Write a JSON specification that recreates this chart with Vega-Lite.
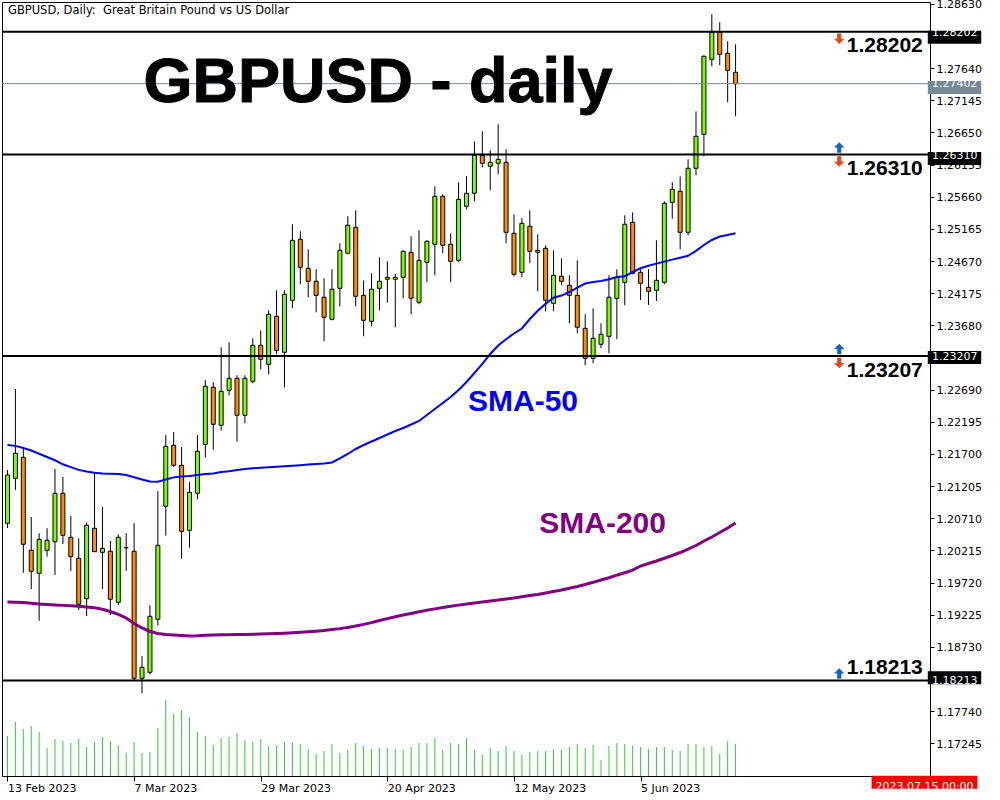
{
"$schema": "https://vega.github.io/schema/vega-lite/v6.json",
"width": 928, "height": 774,
"padding": {"left": 2, "top": 2, "right": 70, "bottom": 24},
"autosize": {"type": "none"},
"background": "white",
"config": {"view": {"stroke": "black", "strokeWidth": 1}, "font": "DejaVu Sans"},
"datasets": {
"bars": [
{"i":0,"d":"2023-02-13","o":1.20633,"h":1.21453,"l":1.20560,"c":1.21376,"v":80000,"s50":1.21838,"s200":1.19421},
{"i":1,"d":"2023-02-14","o":1.21326,"h":1.22701,"l":1.21146,"c":1.21711,"v":108000,"s50":1.21825,"s200":1.19416},
{"i":2,"d":"2023-02-15","o":1.21649,"h":1.21788,"l":1.19872,"c":1.20309,"v":94000,"s50":1.21792,"s200":1.19412},
{"i":3,"d":"2023-02-16","o":1.20217,"h":1.20730,"l":1.19621,"c":1.19894,"v":100000,"s50":1.21754,"s200":1.19401},
{"i":4,"d":"2023-02-17","o":1.19863,"h":1.20479,"l":1.19133,"c":1.20386,"v":88000,"s50":1.21704,"s200":1.19390},
{"i":5,"d":"2023-02-20","o":1.20217,"h":1.20556,"l":1.20119,"c":1.20371,"v":56000,"s50":1.21654,"s200":1.19383},
{"i":6,"d":"2023-02-21","o":1.20349,"h":1.21469,"l":1.19837,"c":1.21095,"v":74000,"s50":1.21603,"s200":1.19375},
{"i":7,"d":"2023-02-22","o":1.21095,"h":1.21346,"l":1.20314,"c":1.20448,"v":70000,"s50":1.21541,"s200":1.19369},
{"i":8,"d":"2023-02-23","o":1.20417,"h":1.20745,"l":1.19898,"c":1.20119,"v":66000,"s50":1.21497,"s200":1.19363},
{"i":9,"d":"2023-02-24","o":1.20094,"h":1.20402,"l":1.19298,"c":1.19386,"v":74000,"s50":1.21455,"s200":1.19355},
{"i":10,"d":"2023-02-27","o":1.19472,"h":1.20648,"l":1.19205,"c":1.20602,"v":58000,"s50":1.21430,"s200":1.19344},
{"i":11,"d":"2023-02-28","o":1.20556,"h":1.21407,"l":1.20191,"c":1.20196,"v":68000,"s50":1.21410,"s200":1.19332},
{"i":12,"d":"2023-03-01","o":1.20186,"h":1.20884,"l":1.19621,"c":1.20248,"v":78000,"s50":1.21398,"s200":1.19309},
{"i":13,"d":"2023-03-02","o":1.20202,"h":1.20360,"l":1.19221,"c":1.19463,"v":70000,"s50":1.21396,"s200":1.19275},
{"i":14,"d":"2023-03-03","o":1.19416,"h":1.20463,"l":1.19375,"c":1.20417,"v":62000,"s50":1.21392,"s200":1.19232},
{"i":15,"d":"2023-03-06","o":1.20257,"h":1.20483,"l":1.19898,"c":1.20257,"v":46000,"s50":1.21376,"s200":1.19175},
{"i":16,"d":"2023-03-07","o":1.20202,"h":1.20633,"l":1.18220,"c":1.18246,"v":68000,"s50":1.21343,"s200":1.19090},
{"i":17,"d":"2023-03-08","o":1.18246,"h":1.18590,"l":1.18015,"c":1.18416,"v":46000,"s50":1.21307,"s200":1.19021},
{"i":18,"d":"2023-03-09","o":1.18339,"h":1.19370,"l":1.18308,"c":1.19201,"v":48000,"s50":1.21275,"s200":1.18967},
{"i":19,"d":"2023-03-10","o":1.19155,"h":1.21130,"l":1.19056,"c":1.20294,"v":96000,"s50":1.21272,"s200":1.18936},
{"i":20,"d":"2023-03-13","o":1.20895,"h":1.21992,"l":1.20442,"c":1.21818,"v":152000,"s50":1.21307,"s200":1.18921},
{"i":21,"d":"2023-03-14","o":1.21834,"h":1.22039,"l":1.21500,"c":1.21526,"v":124000,"s50":1.21340,"s200":1.18913},
{"i":22,"d":"2023-03-15","o":1.21526,"h":1.21808,"l":1.20088,"c":1.20510,"v":132000,"s50":1.21353,"s200":1.18905},
{"i":23,"d":"2023-03-16","o":1.20525,"h":1.21269,"l":1.20257,"c":1.21110,"v":118000,"s50":1.21361,"s200":1.18898},
{"i":24,"d":"2023-03-17","o":1.21095,"h":1.21992,"l":1.21002,"c":1.21741,"v":88000,"s50":1.21376,"s200":1.18901},
{"i":25,"d":"2023-03-20","o":1.21849,"h":1.22839,"l":1.21643,"c":1.22742,"v":80000,"s50":1.21390,"s200":1.18908},
{"i":26,"d":"2023-03-21","o":1.22727,"h":1.22804,"l":1.21766,"c":1.22157,"v":62000,"s50":1.21401,"s200":1.18913},
{"i":27,"d":"2023-03-22","o":1.22142,"h":1.23343,"l":1.22059,"c":1.22665,"v":76000,"s50":1.21423,"s200":1.18916},
{"i":28,"d":"2023-03-23","o":1.22681,"h":1.23420,"l":1.22604,"c":1.22865,"v":78000,"s50":1.21435,"s200":1.18918},
{"i":29,"d":"2023-03-24","o":1.22865,"h":1.22912,"l":1.21889,"c":1.22296,"v":86000,"s50":1.21453,"s200":1.18919},
{"i":30,"d":"2023-03-27","o":1.22296,"h":1.22912,"l":1.22172,"c":1.22865,"v":72000,"s50":1.21469,"s200":1.18921},
{"i":31,"d":"2023-03-28","o":1.22819,"h":1.23481,"l":1.22788,"c":1.23373,"v":68000,"s50":1.21480,"s200":1.18925},
{"i":32,"d":"2023-03-29","o":1.23373,"h":1.23604,"l":1.23004,"c":1.23158,"v":74000,"s50":1.21487,"s200":1.18928},
{"i":33,"d":"2023-03-30","o":1.23081,"h":1.23912,"l":1.22927,"c":1.23851,"v":60000,"s50":1.21495,"s200":1.18931},
{"i":34,"d":"2023-03-31","o":1.23820,"h":1.24220,"l":1.23235,"c":1.23296,"v":62000,"s50":1.21503,"s200":1.18936},
{"i":35,"d":"2023-04-03","o":1.23266,"h":1.24220,"l":1.22727,"c":1.24159,"v":68000,"s50":1.21510,"s200":1.18941},
{"i":36,"d":"2023-04-04","o":1.24066,"h":1.25237,"l":1.23943,"c":1.24990,"v":66000,"s50":1.21518,"s200":1.18947},
{"i":37,"d":"2023-04-05","o":1.25006,"h":1.25129,"l":1.24313,"c":1.24574,"v":64000,"s50":1.21527,"s200":1.18955},
{"i":38,"d":"2023-04-06","o":1.24559,"h":1.24852,"l":1.24113,"c":1.24359,"v":54000,"s50":1.21537,"s200":1.18962},
{"i":39,"d":"2023-04-07","o":1.24359,"h":1.24544,"l":1.23882,"c":1.24143,"v":44000,"s50":1.21546,"s200":1.18971},
{"i":40,"d":"2023-04-10","o":1.24113,"h":1.24405,"l":1.23435,"c":1.23805,"v":50000,"s50":1.21554,"s200":1.18982},
{"i":41,"d":"2023-04-11","o":1.23774,"h":1.24544,"l":1.23758,"c":1.24236,"v":64000,"s50":1.21569,"s200":1.18996},
{"i":42,"d":"2023-04-12","o":1.24251,"h":1.24944,"l":1.23974,"c":1.24836,"v":46000,"s50":1.21631,"s200":1.19011},
{"i":43,"d":"2023-04-13","o":1.24790,"h":1.25360,"l":1.24775,"c":1.25221,"v":52000,"s50":1.21700,"s200":1.19030},
{"i":44,"d":"2023-04-14","o":1.25190,"h":1.25452,"l":1.23974,"c":1.24128,"v":66000,"s50":1.21777,"s200":1.19051},
{"i":45,"d":"2023-04-17","o":1.24143,"h":1.24374,"l":1.23512,"c":1.23758,"v":60000,"s50":1.21838,"s200":1.19076},
{"i":46,"d":"2023-04-18","o":1.23743,"h":1.24482,"l":1.23666,"c":1.24236,"v":54000,"s50":1.21892,"s200":1.19104},
{"i":47,"d":"2023-04-19","o":1.24251,"h":1.24728,"l":1.23912,"c":1.24359,"v":56000,"s50":1.21946,"s200":1.19135},
{"i":48,"d":"2023-04-20","o":1.24390,"h":1.24667,"l":1.24032,"c":1.24420,"v":56000,"s50":1.22000,"s200":1.19165},
{"i":49,"d":"2023-04-21","o":1.24390,"h":1.24471,"l":1.23651,"c":1.24420,"v":54000,"s50":1.22054,"s200":1.19193},
{"i":50,"d":"2023-04-24","o":1.24420,"h":1.24836,"l":1.24097,"c":1.24821,"v":52000,"s50":1.22100,"s200":1.19221},
{"i":51,"d":"2023-04-25","o":1.24805,"h":1.25052,"l":1.23851,"c":1.24097,"v":58000,"s50":1.22154,"s200":1.19245},
{"i":52,"d":"2023-04-26","o":1.24036,"h":1.25144,"l":1.24005,"c":1.24682,"v":66000,"s50":1.22208,"s200":1.19270},
{"i":53,"d":"2023-04-27","o":1.24651,"h":1.24990,"l":1.24343,"c":1.24975,"v":66000,"s50":1.22300,"s200":1.19293},
{"i":54,"d":"2023-04-28","o":1.24929,"h":1.25822,"l":1.24451,"c":1.25668,"v":76000,"s50":1.22393,"s200":1.19315},
{"i":55,"d":"2023-05-01","o":1.25668,"h":1.25698,"l":1.24790,"c":1.24913,"v":52000,"s50":1.22485,"s200":1.19336},
{"i":56,"d":"2023-05-02","o":1.24929,"h":1.25098,"l":1.24343,"c":1.24667,"v":66000,"s50":1.22577,"s200":1.19355},
{"i":57,"d":"2023-05-03","o":1.24682,"h":1.25883,"l":1.24651,"c":1.25621,"v":64000,"s50":1.22685,"s200":1.19373},
{"i":58,"d":"2023-05-04","o":1.25514,"h":1.25976,"l":1.25467,"c":1.25714,"v":76000,"s50":1.22808,"s200":1.19390},
{"i":59,"d":"2023-05-05","o":1.25714,"h":1.26514,"l":1.25591,"c":1.26299,"v":52000,"s50":1.22947,"s200":1.19406},
{"i":60,"d":"2023-05-08","o":1.26299,"h":1.26668,"l":1.26114,"c":1.26176,"v":42000,"s50":1.23086,"s200":1.19421},
{"i":61,"d":"2023-05-09","o":1.26130,"h":1.26376,"l":1.25760,"c":1.26191,"v":56000,"s50":1.23240,"s200":1.19436},
{"i":62,"d":"2023-05-10","o":1.26176,"h":1.26776,"l":1.26006,"c":1.26237,"v":50000,"s50":1.23370,"s200":1.19452},
{"i":63,"d":"2023-05-11","o":1.26191,"h":1.26391,"l":1.24944,"c":1.25113,"v":60000,"s50":1.23467,"s200":1.19467},
{"i":64,"d":"2023-05-12","o":1.25098,"h":1.25390,"l":1.24433,"c":1.24467,"v":50000,"s50":1.23555,"s200":1.19484},
{"i":65,"d":"2023-05-15","o":1.24497,"h":1.25329,"l":1.24420,"c":1.25252,"v":42000,"s50":1.23632,"s200":1.19501},
{"i":66,"d":"2023-05-16","o":1.25206,"h":1.25452,"l":1.24636,"c":1.24821,"v":48000,"s50":1.23778,"s200":1.19520},
{"i":67,"d":"2023-05-17","o":1.24805,"h":1.25083,"l":1.24205,"c":1.24836,"v":50000,"s50":1.23906,"s200":1.19538},
{"i":68,"d":"2023-05-18","o":1.24867,"h":1.24913,"l":1.23897,"c":1.24066,"v":50000,"s50":1.24012,"s200":1.19560},
{"i":69,"d":"2023-05-19","o":1.24020,"h":1.24836,"l":1.23897,"c":1.24451,"v":54000,"s50":1.24105,"s200":1.19583},
{"i":70,"d":"2023-05-22","o":1.24436,"h":1.24713,"l":1.24297,"c":1.24359,"v":52000,"s50":1.24139,"s200":1.19606},
{"i":71,"d":"2023-05-23","o":1.24297,"h":1.24451,"l":1.23712,"c":1.24143,"v":58000,"s50":1.24194,"s200":1.19632},
{"i":72,"d":"2023-05-24","o":1.24143,"h":1.24682,"l":1.23558,"c":1.23651,"v":64000,"s50":1.24263,"s200":1.19660},
{"i":73,"d":"2023-05-25","o":1.23635,"h":1.23851,"l":1.23066,"c":1.23173,"v":56000,"s50":1.24325,"s200":1.19691},
{"i":74,"d":"2023-05-26","o":1.23173,"h":1.23943,"l":1.23096,"c":1.23481,"v":62000,"s50":1.24348,"s200":1.19724},
{"i":75,"d":"2023-05-29","o":1.23389,"h":1.23712,"l":1.23327,"c":1.23543,"v":32000,"s50":1.24363,"s200":1.19760},
{"i":76,"d":"2023-05-30","o":1.23512,"h":1.24451,"l":1.23250,"c":1.24113,"v":60000,"s50":1.24391,"s200":1.19795},
{"i":77,"d":"2023-05-31","o":1.24097,"h":1.24544,"l":1.23466,"c":1.24420,"v":66000,"s50":1.24425,"s200":1.19834},
{"i":78,"d":"2023-06-01","o":1.24343,"h":1.25375,"l":1.23989,"c":1.25237,"v":64000,"s50":1.24436,"s200":1.19872},
{"i":79,"d":"2023-06-02","o":1.25267,"h":1.25421,"l":1.24467,"c":1.24482,"v":60000,"s50":1.24502,"s200":1.19911},
{"i":80,"d":"2023-06-05","o":1.24497,"h":1.24544,"l":1.24071,"c":1.24328,"v":58000,"s50":1.24559,"s200":1.19975},
{"i":81,"d":"2023-06-06","o":1.24266,"h":1.24544,"l":1.23994,"c":1.24205,"v":54000,"s50":1.24599,"s200":1.20014},
{"i":82,"d":"2023-06-07","o":1.24220,"h":1.24990,"l":1.24056,"c":1.24374,"v":58000,"s50":1.24631,"s200":1.20052},
{"i":83,"d":"2023-06-08","o":1.24343,"h":1.25591,"l":1.24313,"c":1.25560,"v":58000,"s50":1.24662,"s200":1.20094},
{"i":84,"d":"2023-06-09","o":1.25575,"h":1.25883,"l":1.25323,"c":1.25775,"v":52000,"s50":1.24693,"s200":1.20137},
{"i":85,"d":"2023-06-12","o":1.25745,"h":1.25976,"l":1.24852,"c":1.25113,"v":50000,"s50":1.24722,"s200":1.20183},
{"i":86,"d":"2023-06-13","o":1.25113,"h":1.26237,"l":1.25067,"c":1.26099,"v":64000,"s50":1.24751,"s200":1.20234},
{"i":87,"d":"2023-06-14","o":1.26099,"h":1.26976,"l":1.25991,"c":1.26591,"v":64000,"s50":1.24828,"s200":1.20291},
{"i":88,"d":"2023-06-15","o":1.26622,"h":1.27839,"l":1.26283,"c":1.27823,"v":58000,"s50":1.24918,"s200":1.20360},
{"i":89,"d":"2023-06-16","o":1.27777,"h":1.28470,"l":1.27669,"c":1.28193,"v":60000,"s50":1.24995,"s200":1.20422},
{"i":90,"d":"2023-06-19","o":1.28193,"h":1.28347,"l":1.27685,"c":1.27854,"v":44000,"s50":1.25049,"s200":1.20491},
{"i":91,"d":"2023-06-20","o":1.27869,"h":1.28054,"l":1.27115,"c":1.27608,"v":70000,"s50":1.25072,"s200":1.20560},
{"i":92,"d":"2023-06-21","o":1.27577,"h":1.28008,"l":1.26899,"c":1.27402,"v":64000,"s50":1.25098,"s200":1.20637}
],
"levels": [
{"lv":1.28202,"lab":"1.28202","side":"below","buy":false,"sell":true},
{"lv":1.26310,"lab":"1.26310","side":"below","buy":true,"sell":true},
{"lv":1.23207,"lab":"1.23207","side":"below","buy":true,"sell":true},
{"lv":1.18213,"lab":"1.18213","side":"above","buy":true,"sell":false}
],
"bid": [{"lv":1.27402,"lab":"1.27402"}]
},
"resolve": {"scale": {"y": "independent"}, "axis": {"y": "independent"}},
"layer": [
{
"data": {"name": "bars"},
"mark": {"type": "bar", "size": 1, "color": "#32CD32"},
"encoding": {
"x": {"field": "i", "type": "quantitative", "scale": {"domain": [-0.0625, 115.9375], "nice": false, "zero": false},
"axis": {"orient": "bottom", "values": [0,16,32,48,64,80], "labelExpr": "datum.value == 0 ? '13 Feb 2023' : datum.value == 16 ? '7 Mar 2023' : datum.value == 32 ? '29 Mar 2023' : datum.value == 48 ? '20 Apr 2023' : datum.value == 64 ? '12 May 2023' : '5 Jun 2023'", "labelAlign": "left", "labelFlush": false, "labelOverlap": false, "tickSize": 5, "tickColor": "black", "labelPadding": 1, "domain": false, "grid": false, "title": null, "labelFont": "DejaVu Sans", "labelFontSize": 11, "labelColor": "black"}},
"y": {"field": "v", "type": "quantitative", "scale": {"domain": [0, 1548000], "nice": false}, "axis": null}
}
},
{
"data": {"name": "bars"},
"mark": {"type": "rule", "color": "black", "strokeWidth": 1},
"encoding": {
"x": {"field": "i", "type": "quantitative"},
"y": {"field": "l", "type": "quantitative", "scale": {"domain": [1.167419, 1.286592], "nice": false, "zero": false},
"axis": {"orient": "right", "values": [1.28630,1.28135,1.27640,1.27145,1.26650,1.26155,1.25660,1.25165,1.24670,1.24175,1.23680,1.22690,1.22195,1.21700,1.21205,1.20710,1.20215,1.19720,1.19225,1.18730,1.17740,1.17245], "format": ".5f", "tickSize": 4, "tickColor": "black", "labelPadding": 2, "labelOffset": 1, "labelOverlap": false, "domain": false, "grid": false, "title": null, "labelFont": "DejaVu Sans", "labelFontSize": 11, "labelColor": "black", "zindex": 0}},
"y2": {"field": "h"}
}
},
{
"data": {"name": "bars"},
"mark": {"type": "bar", "size": 4, "stroke": "black", "strokeWidth": 1},
"encoding": {
"x": {"field": "i", "type": "quantitative"},
"y": {"field": "o", "type": "quantitative", "scale": {"domain": [1.167419, 1.286592], "nice": false, "zero": false}, "axis": null},
"y2": {"field": "c"},
"color": {"condition": {"test": "datum.c > datum.o", "value": "#7CFC00"}, "value": "#FF8C00"}
}
},
{
"data": {"name": "bars"},
"mark": {"type": "line", "color": "#0000FF", "strokeWidth": 2},
"encoding": {
"x": {"field": "i", "type": "quantitative"},
"y": {"field": "s50", "type": "quantitative", "scale": {"domain": [1.167419, 1.286592], "nice": false, "zero": false}, "axis": null}
}
},
{
"data": {"name": "bars"},
"mark": {"type": "line", "color": "#800080", "strokeWidth": 3},
"encoding": {
"x": {"field": "i", "type": "quantitative"},
"y": {"field": "s200", "type": "quantitative", "scale": {"domain": [1.167419, 1.286592], "nice": false, "zero": false}, "axis": null}
}
},
{
"data": {"name": "levels"},
"mark": {"type": "rule", "color": "black", "strokeWidth": 2},
"encoding": {"y": {"field": "lv", "type": "quantitative", "scale": {"domain": [1.167419, 1.286592], "nice": false, "zero": false}, "axis": null}}
},
{
"data": {"name": "bid"},
"mark": {"type": "rule", "color": "#778899", "strokeWidth": 1},
"encoding": {"y": {"field": "lv", "type": "quantitative", "scale": {"domain": [1.167419, 1.286592], "nice": false, "zero": false}, "axis": null}}
},
{
"data": {"name": "levels"},
"mark": {"type": "bar", "size": 13, "color": "black", "yOffset": 1},
"encoding": {
"x": {"datum": 116.29, "type": "quantitative"},
"x2": {"datum": 123.04},
"y": {"field": "lv", "type": "quantitative", "scale": {"domain": [1.167419, 1.286592], "nice": false, "zero": false}, "axis": null}
}
},
{
"data": {"name": "bid"},
"mark": {"type": "bar", "size": 13, "color": "#778899"},
"encoding": {
"x": {"datum": 116.29, "type": "quantitative"},
"x2": {"datum": 123.04},
"y": {"field": "lv", "type": "quantitative", "scale": {"domain": [1.167419, 1.286592], "nice": false, "zero": false}, "axis": null}
}
},
{
"data": {"name": "levels"},
"mark": {"type": "text", "color": "white", "font": "DejaVu Sans", "fontSize": 11, "align": "center", "baseline": "middle", "dy": 1},
"encoding": {
"x": {"datum": 119.69, "type": "quantitative"},
"y": {"field": "lv", "type": "quantitative", "scale": {"domain": [1.167419, 1.286592], "nice": false, "zero": false}, "axis": null},
"text": {"field": "lab"}
}
},
{
"data": {"name": "bid"},
"mark": {"type": "text", "color": "white", "font": "DejaVu Sans", "fontSize": 11, "align": "center", "baseline": "middle"},
"encoding": {
"x": {"datum": 119.69, "type": "quantitative"},
"y": {"field": "lv", "type": "quantitative", "scale": {"domain": [1.167419, 1.286592], "nice": false, "zero": false}, "axis": null},
"text": {"field": "lab"}
}
},
{
"data": {"name": "levels"},
"transform": [{"filter": "datum.side == 'below'"}],
"mark": {"type": "text", "color": "black", "font": "Liberation Sans", "fontWeight": "bold", "fontSize": 21, "align": "left", "baseline": "alphabetic", "dy": 20.5},
"encoding": {
"x": {"datum": 106.06, "type": "quantitative"},
"y": {"field": "lv", "type": "quantitative", "scale": {"domain": [1.167419, 1.286592], "nice": false, "zero": false}, "axis": null},
"text": {"field": "lab"}
}
},
{
"data": {"name": "levels"},
"transform": [{"filter": "datum.side == 'above'"}],
"mark": {"type": "text", "color": "black", "font": "Liberation Sans", "fontWeight": "bold", "fontSize": 21, "align": "left", "baseline": "alphabetic", "dy": -6},
"encoding": {
"x": {"datum": 106.06, "type": "quantitative"},
"y": {"field": "lv", "type": "quantitative", "scale": {"domain": [1.167419, 1.286592], "nice": false, "zero": false}, "axis": null},
"text": {"field": "lab"}
}
},
{
"data": {"name": "levels"},
"transform": [{"filter": "datum.buy"}],
"mark": {"type": "point", "filled": true, "color": "#1565C0", "size": 110, "opacity": 1, "yOffset": -7, "shape": "M -0.4 1 L 0.4 1 L 0.4 0 L 1 0 L 0 -1 L -1 0 L -0.4 0 Z"},
"encoding": {
"x": {"datum": 105.1, "type": "quantitative"},
"y": {"field": "lv", "type": "quantitative", "scale": {"domain": [1.167419, 1.286592], "nice": false, "zero": false}, "axis": null}
}
},
{
"data": {"name": "levels"},
"transform": [{"filter": "datum.sell"}],
"mark": {"type": "point", "filled": true, "color": "#E64A19", "size": 110, "opacity": 1, "yOffset": 7, "shape": "M -0.4 -1 L 0.4 -1 L 0.4 0 L 1 0 L 0 1 L -1 0 L -0.4 0 Z"},
"encoding": {
"x": {"datum": 105.1, "type": "quantitative"},
"y": {"field": "lv", "type": "quantitative", "scale": {"domain": [1.167419, 1.286592], "nice": false, "zero": false}, "axis": null}
}
},
{
"data": {"values": [{"t": "GBPUSD - daily"}]},
"mark": {"type": "text", "color": "black", "font": "Liberation Sans", "fontWeight": "bold", "fontSize": 63, "align": "left", "baseline": "alphabetic", "stroke": "black", "strokeWidth": 1},
"encoding": {
"x": {"datum": 17.19, "type": "quantitative"},
"y": {"datum": 1.27120, "type": "quantitative", "scale": {"domain": [1.167419, 1.286592], "nice": false, "zero": false}, "axis": null},
"text": {"field": "t"}
}
},
{
"data": {"values": [{"t": "SMA-50"}]},
"mark": {"type": "text", "color": "#0000FF", "font": "Liberation Sans", "fontWeight": "bold", "fontSize": 30, "align": "left", "baseline": "alphabetic"},
"encoding": {
"x": {"datum": 58.19, "type": "quantitative"},
"y": {"datum": 1.22362, "type": "quantitative", "scale": {"domain": [1.167419, 1.286592], "nice": false, "zero": false}, "axis": null},
"text": {"field": "t"}
}
},
{
"data": {"values": [{"t": "SMA-200"}]},
"mark": {"type": "text", "color": "#800080", "font": "Liberation Sans", "fontWeight": "bold", "fontSize": 30, "align": "left", "baseline": "alphabetic"},
"encoding": {
"x": {"datum": 67.19, "type": "quantitative"},
"y": {"datum": 1.20483, "type": "quantitative", "scale": {"domain": [1.167419, 1.286592], "nice": false, "zero": false}, "axis": null},
"text": {"field": "t"}
}
},
{
"data": {"values": [{"t": "GBPUSD, Daily:\u00a0 Great Britain Pound vs US Dollar"}]},
"mark": {"type": "text", "color": "black", "font": "DejaVu Sans", "fontSize": 11.5, "align": "left", "baseline": "alphabetic"},
"encoding": {
"x": {"datum": 0.06, "type": "quantitative"},
"y": {"datum": 1.28474, "type": "quantitative", "scale": {"domain": [1.167419, 1.286592], "nice": false, "zero": false}, "axis": null},
"text": {"field": "t"}
}
},
{
"data": {"values": [{"t": "2023.07.15 00:00"}]},
"mark": {"type": "bar", "size": 13, "color": "#FF0000"},
"encoding": {
"x": {"datum": 109.19, "type": "quantitative"},
"x2": {"datum": 122.56},
"y": {"datum": 1.16565, "type": "quantitative", "scale": {"domain": [1.167419, 1.286592], "nice": false, "zero": false}, "axis": null}
}
},
{
"data": {"values": [{"t": "2023.07.15 00:00"}]},
"mark": {"type": "text", "color": "white", "font": "DejaVu Sans", "fontSize": 11, "align": "center", "baseline": "middle"},
"encoding": {
"x": {"datum": 115.875, "type": "quantitative"},
"y": {"datum": 1.16565, "type": "quantitative", "scale": {"domain": [1.167419, 1.286592], "nice": false, "zero": false}, "axis": null},
"text": {"field": "t"}
}
}
]
}
